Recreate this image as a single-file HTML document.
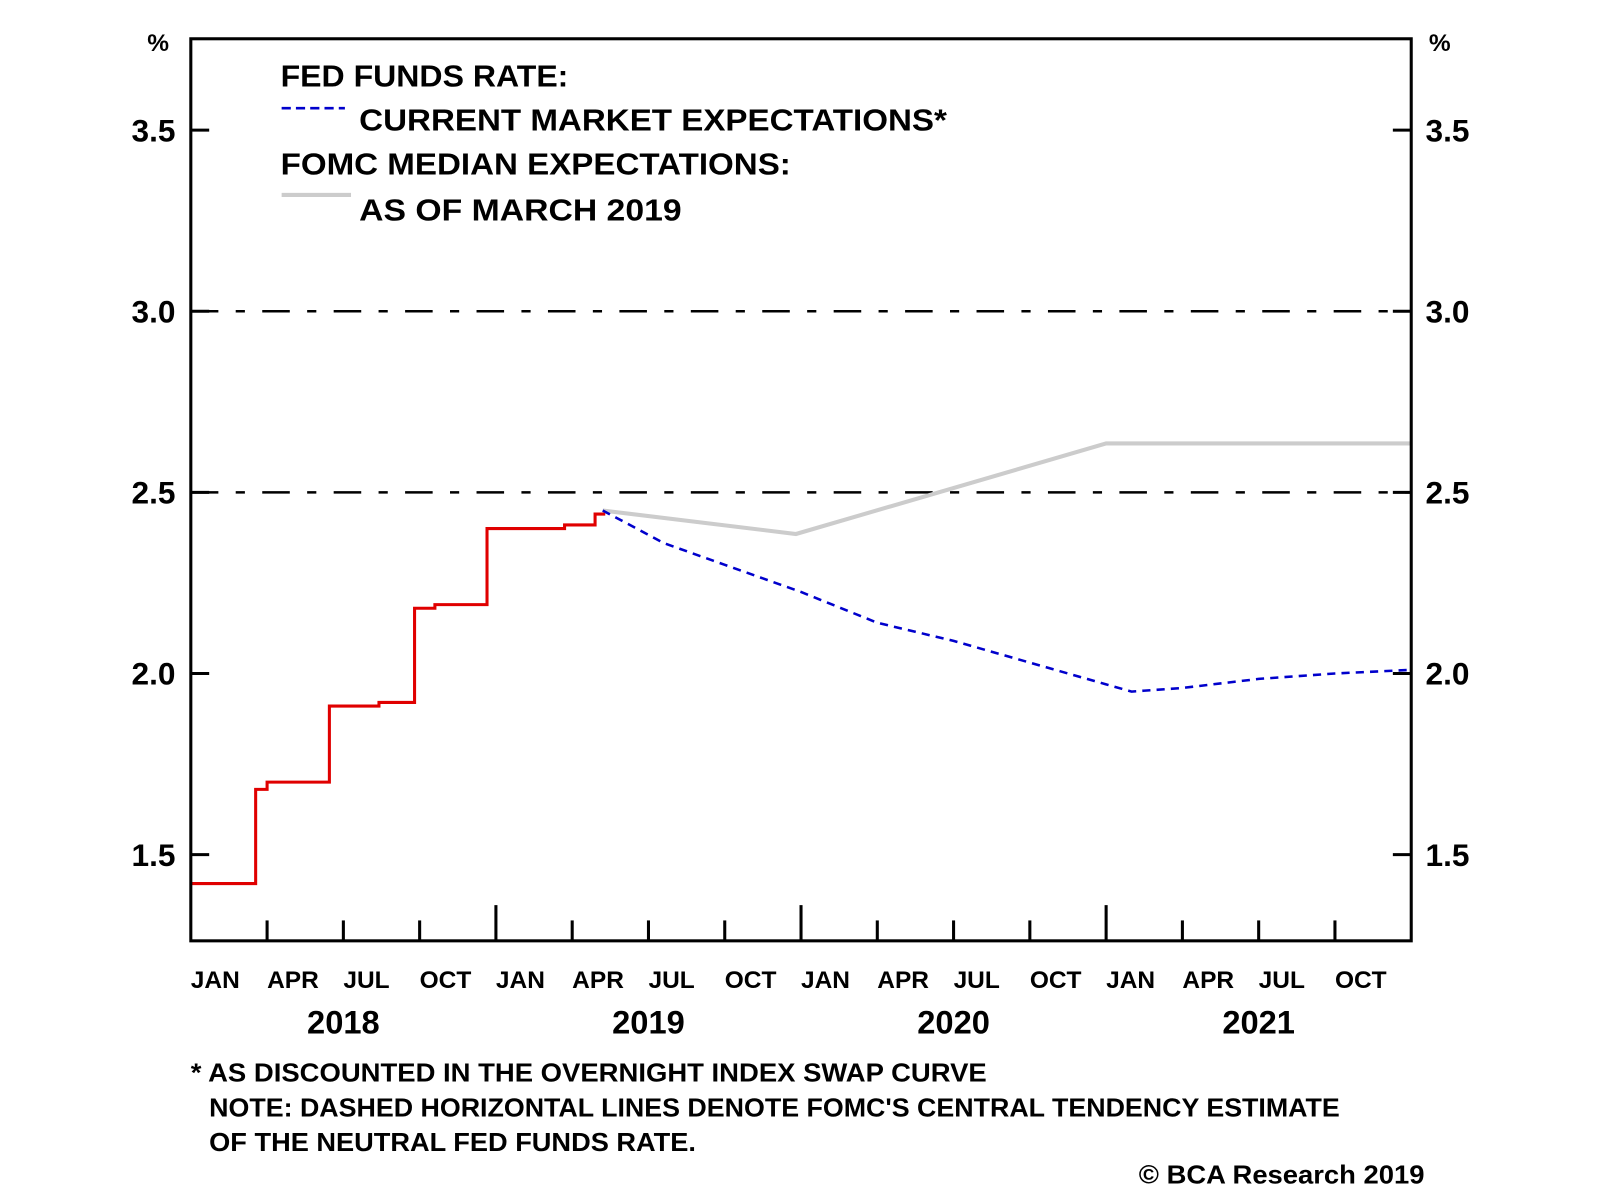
<!DOCTYPE html>
<html><head><meta charset="utf-8"><style>
html,body{margin:0;padding:0;background:#fff;}
svg{display:block;font-family:"Liberation Sans",Arial,sans-serif;font-weight:bold;}
</style></head><body>
<svg id="chart" width="1600" height="1199" viewBox="0 0 1568 1175" preserveAspectRatio="none">
<g id="grid"></g>
<g id="series"></g>
<g id="axes"></g>
<g id="legend">
  <text x="275" y="85" font-size="30" textLength="282" lengthAdjust="spacingAndGlyphs">FED FUNDS RATE:</text>
  <line x1="276" y1="106" x2="338" y2="106" stroke="#0000cc" stroke-width="2.5" stroke-dasharray="9 5"/>
  <text x="352" y="128" font-size="30" textLength="576" lengthAdjust="spacingAndGlyphs">CURRENT MARKET EXPECTATIONS*</text>
  <text x="275" y="171" font-size="30" textLength="500" lengthAdjust="spacingAndGlyphs">FOMC MEDIAN EXPECTATIONS:</text>
  <line x1="276" y1="191" x2="344" y2="191" stroke="#cccccc" stroke-width="4"/>
  <text x="352" y="216" font-size="30" textLength="316" lengthAdjust="spacingAndGlyphs">AS OF MARCH 2019</text>
</g>
<g>
  <text x="187" y="1060" font-size="25" textLength="780" lengthAdjust="spacingAndGlyphs">* AS DISCOUNTED IN THE OVERNIGHT INDEX SWAP CURVE</text>
  <text x="205" y="1094" font-size="25" textLength="1108" lengthAdjust="spacingAndGlyphs">NOTE: DASHED HORIZONTAL LINES DENOTE FOMC'S CENTRAL TENDENCY ESTIMATE</text>
  <text x="205" y="1128" font-size="25" textLength="477" lengthAdjust="spacingAndGlyphs">OF THE NEUTRAL FED FUNDS RATE.</text>
  <text x="1396" y="1160" font-size="25" text-anchor="end" textLength="280" lengthAdjust="spacingAndGlyphs">© BCA Research 2019</text>
</g>
</svg>
<script>
// data
const redMonths = [0, 2.55, 3.0, 5.45, 7.4, 8.8, 9.6, 11.65, 14.7, 15.9, 16.3];
const redValues = [1.42, 1.68, 1.70, 1.91, 1.92, 2.18, 2.19, 2.40, 2.41, 2.44, 2.44];
const marketMonths = [16.2, 18.6, 21, 24, 27, 30, 33, 36, 37, 39, 42, 45, 48];
const marketValues = [2.45, 2.36, 2.30, 2.225, 2.14, 2.09, 2.03, 1.97, 1.95, 1.96, 1.985, 2.0, 2.01];
const fomcMonths = [16.2, 23.8, 36, 48];
const fomcValues = [2.45, 2.385, 2.635, 2.635];
const yTicks = [1.5, 2.0, 2.5, 3.0, 3.5];
const yTickLabels = ["1.5", "2.0", "2.5", "3.0", "3.5"];
const neutralLevels = [2.5, 3.0];
const monthLabels = ["JAN","APR","JUL","OCT"];
const years = ["2018","2019","2020","2021"];

const L=187,R=1383,T=38,B=922;
const x = m => L + m*(R-L)/48;
const y = v => 305 + (3.0 - v)*355;
const NS="http://www.w3.org/2000/svg";
function mk(tag, attrs, parent){const e=document.createElementNS(NS,tag);for(const k in attrs)e.setAttribute(k,attrs[k]);parent.appendChild(e);return e;}
const grid=document.getElementById('grid'),series=document.getElementById('series'),axes=document.getElementById('axes');

neutralLevels.forEach(v=>{
  const l=mk('line',{x1:L,x2:R,y1:y(v),y2:y(v),stroke:'#000','stroke-width':2.5,'stroke-dasharray':'27 17 9 17'},grid);
  
  
});

let d='M'+x(redMonths[0])+','+y(redValues[0]);
for(let i=1;i<redMonths.length;i++){d+=' H'+x(redMonths[i])+' V'+y(redValues[i]);}
const red=mk('path',{d:d,fill:'none',stroke:'#e00000','stroke-width':3},series);



const fomc=mk('polyline',{points:fomcMonths.map((m,i)=>x(m)+','+y(fomcValues[i])).join(' '),fill:'none',stroke:'#cccccc','stroke-width':4},series);



const mkt=mk('polyline',{points:marketMonths.map((m,i)=>x(m)+','+y(marketValues[i])).join(' '),fill:'none',stroke:'#0000cc','stroke-width':2.5,'stroke-dasharray':'8 6'},series);



const frame=mk('rect',{x:L,y:T,width:R-L,height:B-T,fill:'none',stroke:'#000','stroke-width':3},axes);



yTicks.forEach((v,i)=>{
  const t1=mk('line',{x1:L,x2:L+18,y1:y(v),y2:y(v),stroke:'#000','stroke-width':3},axes);
  
  
  const t2=mk('line',{x1:R-18,x2:R,y1:y(v),y2:y(v),stroke:'#000','stroke-width':3},axes);
  
  
  const a=mk('text',{x:172,y:y(v)+11,'font-size':31,'text-anchor':'end'},axes);a.textContent=yTickLabels[i];
  
  
  const b=mk('text',{x:1397,y:y(v)+11,'font-size':31},axes);b.textContent=yTickLabels[i];
  
  
});
const p1=mk('text',{x:155,y:50,'font-size':24,'text-anchor':'middle'},axes);p1.textContent='%';


const p2=mk('text',{x:1411,y:50,'font-size':24,'text-anchor':'middle'},axes);p2.textContent='%';



for(let q=0;q<16;q++){
  const m=q*3, major=(q%4===0);
  if(q>0){
    const t=mk('line',{x1:x(m),x2:x(m),y1:major?B-35:B-20,y2:B,stroke:'#000','stroke-width':3},axes);
    
    
  }
  const lb=mk('text',{x:x(m),y:968,'font-size':24},axes);lb.textContent=monthLabels[q%4];
  
  
}
years.forEach((yr,i)=>{
  const t=mk('text',{x:x(i*12+6),y:1013,'font-size':32,'text-anchor':'middle'},axes);t.textContent=yr;
  
  
});
</script>
</body></html>
